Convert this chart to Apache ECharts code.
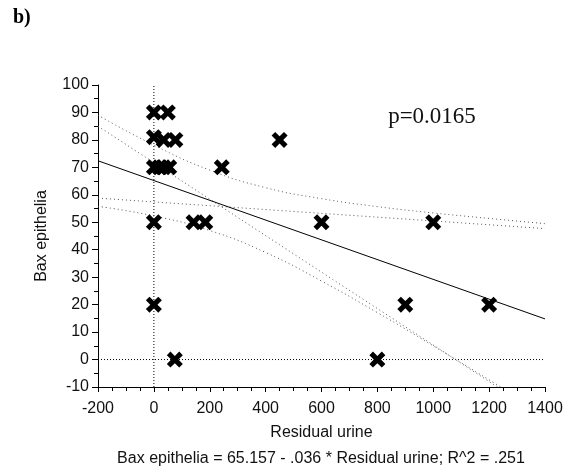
<!DOCTYPE html>
<html>
<head>
<meta charset="utf-8">
<script src="https://cdn.jsdelivr.net/npm/echarts@6/dist/echarts.min.js"></script>
<style>
  html, body { margin: 0; padding: 0; background: #fff; }
  #chart { width: 571px; height: 468px; }
</style>
</head>
<body>
<div id="chart"></div>
<script>
// scatter points (Residual urine, Bax epithelia)
const pointX = [0, 50, 0, 35, 77, 450, 0, 20, 35, 55, 243, 0, 142, 184, 600, 1000, 0, 900, 1200, 75, 800];
const pointY = [90, 90, 81, 80, 80, 80, 70, 70, 70, 70, 70, 50, 50, 50, 50, 50, 20, 20, 20, 0, 0];

// regression line end points
const fitX = [-200, 1400];
const fitY = [72.4, 14.8];

// curved confidence band
const bandX = [-200, 0, 200, 400, 600, 800, 1000, 1200, 1400];
const bandUpper = [89, 78.1, 69.0, 62.6, 58.6, 55.7, 53.4, 51.4, 49.5];
const bandLower = [55.8, 52.3, 47.0, 39.0, 28.6, 17.1, 5.0, -7.4, -19.9];

// straight dotted lines crossing near the mean
const crossX = [-200, 1400];
const steepY = [85, -21.3];
const flatY = [58.8, 47.7];

const sans = 'Liberation Sans, Arial, sans-serif';
const serif = 'Liberation Serif, Times New Roman, serif';
const xMark = 'path://M4.5,0 L10,5.5 L15.5,0 L20,4.5 L14.5,10 L20,15.5 L15.5,20 L10,14.5 L4.5,20 L0,15.5 L5.5,10 L0,4.5 Z';

const pairs = (xs, ys) => xs.map((x, i) => [x, ys[i]]);

const dotted = (name, data, smooth) => ({
  name: name,
  type: 'line',
  data: data,
  smooth: smooth,
  symbol: 'none',
  silent: true,
  lineStyle: { color: '#555', width: 1, type: [1, 3] },
  z: 1
});

const chart = echarts.init(document.getElementById('chart'));
chart.setOption({
  animation: false,
  grid: { left: 98, right: 26, top: 85, bottom: 81 },
  xAxis: {
    type: 'value',
    min: -200,
    max: 1400,
    interval: 200,
    name: 'Residual urine',
    nameLocation: 'middle',
    nameGap: 38,
    nameTextStyle: { fontFamily: sans, fontSize: 16, color: '#111' },
    axisLine: { onZero: false, lineStyle: { color: '#000', width: 1 } },
    axisTick: { show: true, length: 5, lineStyle: { color: '#000' } },
    minorTick: { show: true, splitNumber: 4, length: 4, lineStyle: { color: '#000' } },
    axisLabel: { fontFamily: sans, fontSize: 16, color: '#111', margin: 14, formatter: v => String(v) },
    splitLine: { show: false }
  },
  yAxis: {
    type: 'value',
    min: -10,
    max: 100,
    interval: 10,
    name: 'Bax epithelia',
    nameLocation: 'middle',
    nameGap: 48,
    nameTextStyle: { fontFamily: sans, fontSize: 16, color: '#111' },
    axisLine: { show: true, onZero: false, lineStyle: { color: '#000', width: 1 } },
    axisTick: { show: true, length: 6, lineStyle: { color: '#000' } },
    minorTick: { show: true, splitNumber: 2, length: 4, lineStyle: { color: '#000' } },
    axisLabel: { fontFamily: sans, fontSize: 16, color: '#111', margin: 9, formatter: v => String(v) },
    splitLine: { show: false }
  },
  graphic: [
    { type: 'text', left: 13, top: 8, style: { text: 'b)', font: 'bold 20px ' + serif, fill: '#000' } },
    { type: 'text', x: 432, y: 117, style: { text: 'p=0.0165', font: '23px ' + serif, fill: '#111', align: 'center', verticalAlign: 'middle' } },
    { type: 'text', x: 321, y: 459, style: { text: 'Bax epithelia = 65.157 - .036 * Residual urine; R^2 = .251', font: '16px ' + sans, fill: '#111', align: 'center', verticalAlign: 'middle' } }
  ],
  series: [
    {
      name: 'zero x',
      type: 'line',
      data: [[0, -10], [0, 100]],
      symbol: 'none',
      silent: true,
      lineStyle: { color: '#000', width: 1, type: [1, 2] },
      z: 1
    },
    {
      name: 'zero y',
      type: 'line',
      data: [[-200, 0], [1400, 0]],
      symbol: 'none',
      silent: true,
      lineStyle: { color: '#000', width: 1, type: [1, 2] },
      z: 1
    },
    dotted('band upper', pairs(bandX, bandUpper), true),
    dotted('band lower', pairs(bandX, bandLower), true),
    dotted('steep', pairs(crossX, steepY), false),
    dotted('flat', pairs(crossX, flatY), false),
    {
      name: 'fit',
      type: 'line',
      data: pairs(fitX, fitY),
      symbol: 'none',
      silent: true,
      lineStyle: { color: '#000', width: 1 },
      z: 2
    },
    {
      name: 'points',
      type: 'scatter',
      data: pairs(pointX, pointY),
      symbol: xMark,
      symbolSize: 16,
      itemStyle: { color: '#000', opacity: 1 },
      z: 3
    }
  ]
});
</script>
</body>
</html>
